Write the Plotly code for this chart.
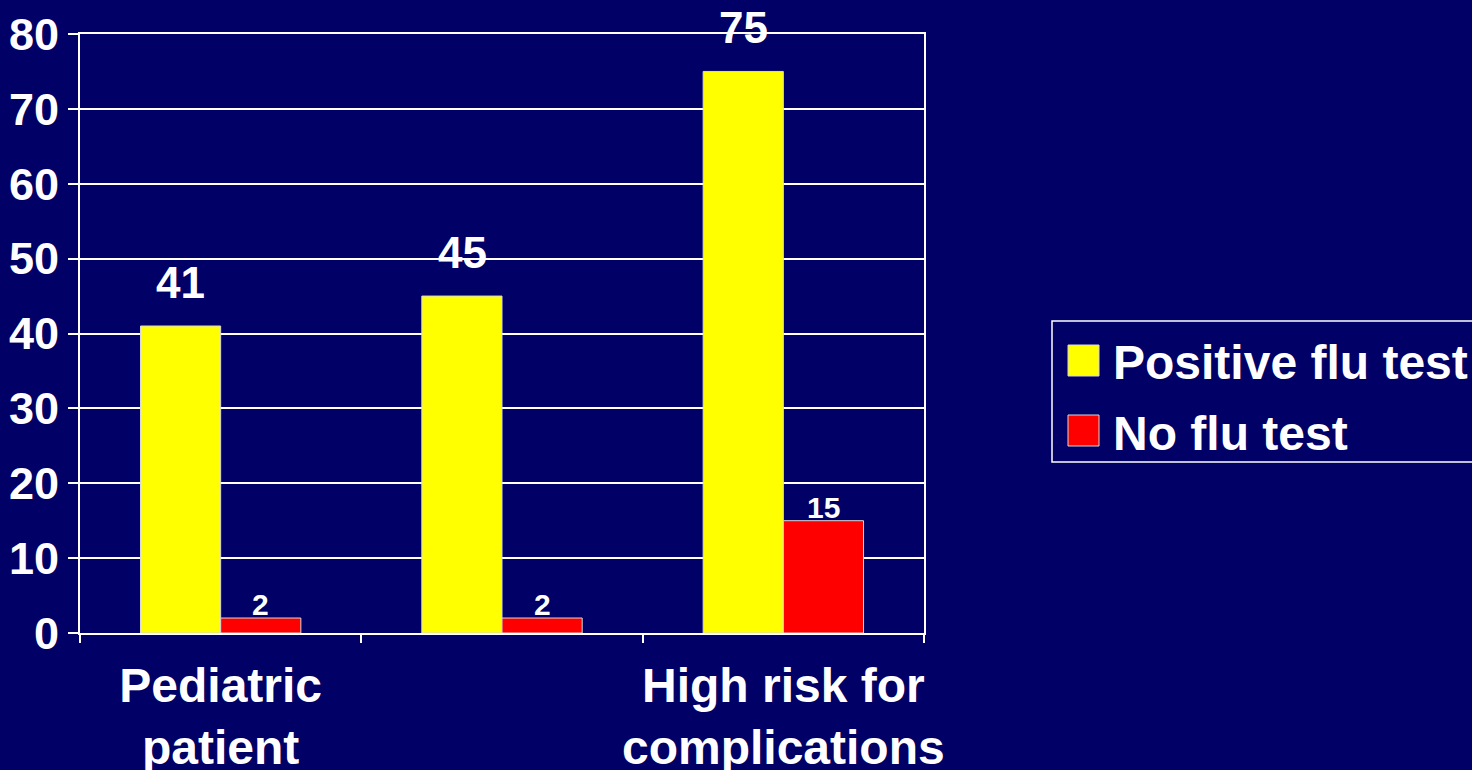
import plotly.graph_objects as go

# Chart data
categories = ["Pediatric<br>patient", " ", "High risk for<br>complications"]
series_names = ["Positive flu test", "No flu test"]
positive_flu_test = [41, 45, 75]
no_flu_test = [2, 2, 15]
series_colors = ["#FFFF00", "#FF0000"]
y_ticks = [0, 10, 20, 30, 40, 50, 60, 70, 80]

BG = "#000066"
FONT = "Liberation Sans, Arial, sans-serif"

W, H = 1472, 770
L, R, T, B = 80, 548, 34, 137
PW, PH = W - L - R, H - T - B


def px_x(px):
    return (px - L) / PW


def px_y(py):
    return (H - B - py) / PH


fig = go.Figure()
all_values = [positive_flu_test, no_flu_test]
for name, vals, col in zip(series_names, all_values, series_colors):
    fig.add_trace(go.Bar(
        x=categories, y=vals, name=name,
        marker=dict(color=col, line=dict(color="#d8d8d8", width=1)),
        showlegend=False, hoverinfo="x+y+name",
    ))

# Value labels above each bar
label_specs = [
    (positive_flu_test, -40, 44, 17),
    (no_flu_test, 40, 30, -5),
]
annotations = []
for vals, xs, size, ys in label_specs:
    for cat, v in zip(categories, vals):
        annotations.append(dict(
            x=cat, y=v, xref="x", yref="y", text=str(v), showarrow=False,
            xshift=xs, yshift=ys, yanchor="bottom", xanchor="center",
            font=dict(family=FONT, size=size, color="white", weight="bold"),
        ))

# Legend drawn with large swatches
shapes = [dict(
    type="rect", xref="paper", yref="paper",
    x0=px_x(1052), x1=px_x(1480), y0=px_y(462), y1=px_y(321),
    line=dict(color="white", width=1.5), fillcolor=BG, layer="below",
)]
legend_rows = [(345, 376, 362), (415, 446, 433)]
for (top, bot, mid), name, col in zip(legend_rows, series_names, series_colors):
    shapes.append(dict(
        type="rect", xref="paper", yref="paper",
        x0=px_x(1068), x1=px_x(1099), y0=px_y(bot), y1=px_y(top),
        line=dict(color="#d8d8d8", width=1), fillcolor=col,
    ))
    annotations.append(dict(
        x=px_x(1111), y=px_y(mid), xref="paper", yref="paper",
        text=name, showarrow=False, xanchor="left", yanchor="middle",
        font=dict(family=FONT, size=48, color="white", weight="bold"),
    ))

fig.update_layout(
    width=W, height=H,
    margin=dict(l=L, r=R, t=T, b=B, pad=0, autoexpand=False),
    paper_bgcolor=BG, plot_bgcolor=BG,
    barmode="group", bargap=0.43, bargroupgap=0,
    showlegend=False,
    annotations=annotations, shapes=shapes,
    font=dict(family=FONT, color="white"),
)
fig.update_xaxes(
    type="category", tickson="boundaries", tickangle=0, automargin=False,
    ticks="outside", ticklen=8, tickwidth=2, tickcolor="white",
    ticklabelstandoff=9,
    showline=True, linecolor="white", linewidth=2, mirror=True,
    showgrid=False,
    tickfont=dict(family=FONT, size=48, color="white", weight="bold"),
)
fig.update_yaxes(
    range=[0, 80], tickvals=y_ticks, automargin=False,
    ticks="outside", ticklen=10, tickwidth=2, tickcolor="white",
    showline=True, linecolor="white", linewidth=2, mirror=True,
    showgrid=True, gridcolor="white", gridwidth=1.5,
    zeroline=False,
    tickfont=dict(family=FONT, size=45, color="white", weight="bold"),
)

fig.write_html("out.html")
